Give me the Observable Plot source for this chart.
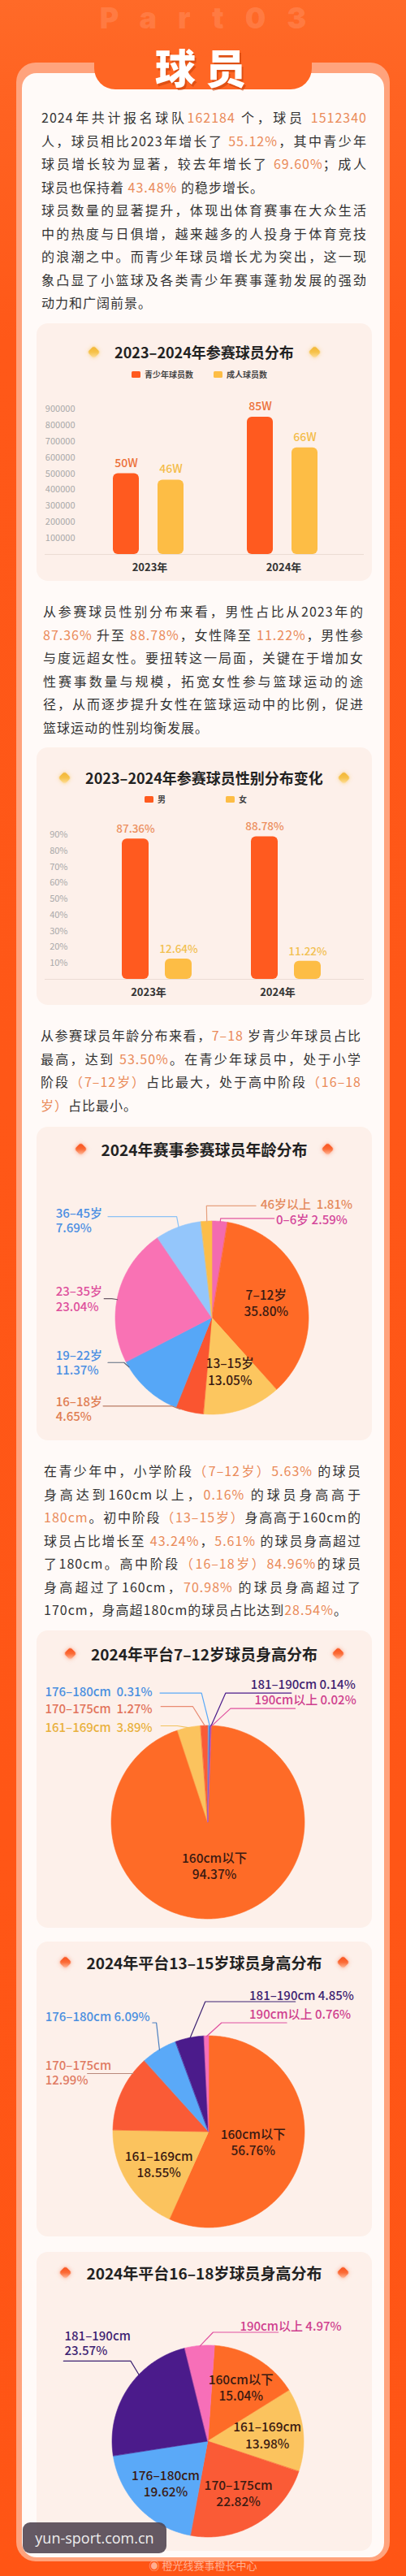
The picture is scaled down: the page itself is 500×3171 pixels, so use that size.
<!DOCTYPE html>
<html><head><meta charset="utf-8">
<script src="https://cdn.jsdelivr.net/npm/d3@7"></script>
<script src="https://cdn.jsdelivr.net/npm/@observablehq/plot@0.6"></script>
<style>
html,body{margin:0;padding:0;}
body{width:500px;height:3171px;position:relative;overflow:hidden;
  background:linear-gradient(180deg,#ff6a28 0px,#ff6322 110px,#ff5818 420px,#ff5515 100%);
  font-family:"Noto Sans CJK SC","Noto Sans",sans-serif;}
.abs{position:absolute;}
#wm{left:0;width:500px;top:0px;text-align:center;font-family:Inter,Roboto,sans-serif;font-weight:900;font-size:36px;line-height:normal;color:rgba(255,255,255,0.13);letter-spacing:26px;padding-left:26px;box-sizing:border-box;}
#ring{left:20px;top:77px;width:460px;height:3076px;background:#ffa37d;border-radius:24px;}
#white{left:27px;top:90px;width:446px;height:3058px;background:#fffaf8;border-radius:18px;}
#tab{left:116px;top:70px;width:268px;height:40px;background:#ff6624;border-radius:0 0 26px 26px;}
#title{left:0;width:500px;top:57px;height:48px;text-align:center;font-size:50px;line-height:48px;font-weight:900;color:#fff;letter-spacing:12px;padding-left:6px;box-sizing:border-box;text-shadow:2px 3px 0 rgba(196,62,8,0.55);}
.para{position:absolute;color:#333;font-size:16px;line-height:28.5px;letter-spacing:1px;}
.para div{height:28.5px;white-space:normal;}
.para div.j{text-align:justify;text-align-last:justify;}
.h{color:#ea8a58;}
.box{position:absolute;left:45px;width:413px;background:#fdf0ea;border-radius:14px;}
.ttl{position:absolute;left:45px;width:413px;height:28px;display:flex;align-items:center;justify-content:center;gap:20px;font-weight:700;color:#222;}
.dm{display:inline-block;width:11px;height:11px;transform:rotate(45deg);border-radius:3px;filter:blur(0.4px);}
.gold{background:linear-gradient(135deg,#f3b431 0%,#f6c24a 50%,#ffe2a6 100%);box-shadow:0 0 5px rgba(246,190,70,.6);}
.red{background:linear-gradient(135deg,#f9501c 0%,#fb6a35 50%,#ffc4a8 100%);box-shadow:0 0 5px rgba(250,90,40,.5);}
.leg{position:absolute;font-size:10px;font-weight:700;color:#444;line-height:14px;display:flex;align-items:center;}
.leg i{display:inline-block;width:11px;height:8px;border-radius:1.5px;margin-right:5px;}
#yun{left:28px;top:3105px;width:177px;height:38px;background:rgba(78,66,78,0.88);border-radius:9px;color:#eee;font:18px/38px "Open Sans","DejaVu Sans",sans-serif;text-align:center;}
#weibo{left:0;width:500px;top:3149px;text-align:center;font-size:13px;line-height:18px;color:rgba(255,255,255,0.55);}
</style></head>
<body>
<div id="wm" class="abs">Part03</div>
<div id="ring" class="abs"></div>
<div id="white" class="abs"></div>
<div id="tab" class="abs"></div>
<div id="title" class="abs">球员</div>

<div class="para" style="left:51px;top:130px;width:401px;">
<div class="j">2024年共计报名球队<span class="h">162184</span> 个，球员 <span class="h">1512340</span></div>
<div class="j">人，球员相比2023年增长了 <span class="h">55.12%</span>，其中青少年</div>
<div class="j">球员增长较为显著，较去年增长了 <span class="h">69.60%</span>；成人</div>
<div>球员也保持着 <span class="h">43.48%</span> 的稳步增长。</div>
<div class="j">球员数量的显著提升，体现出体育赛事在大众生活</div>
<div class="j">中的热度与日俱增，越来越多的人投身于体育竞技</div>
<div class="j">的浪潮之中。而青少年球员增长尤为突出，这一现</div>
<div class="j">象凸显了小篮球及各类青少年赛事蓬勃发展的强劲</div>
<div>动力和广阔前景。</div>
</div>

<div class="box" style="top:398px;height:317px;"></div>
<div class="ttl" style="top:419px;font-size:18px;"><i class="dm gold"></i><span>2023–2024年参赛球员分布</span><i class="dm gold"></i></div>
<div id="leg1"></div>

<div class="para" style="left:53px;top:738px;width:395px;">
<div class="j">从参赛球员性别分布来看，男性占比从2023年的</div>
<div class="j"><span class="h">87.36%</span> 升至 <span class="h">88.78%</span>，女性降至 <span class="h">11.22%</span>，男性参</div>
<div class="j">与度远超女性。要扭转这一局面，关键在于增加女</div>
<div class="j">性赛事数量与规模，拓宽女性参与篮球运动的途</div>
<div class="j">径，从而逐步提升女性在篮球运动中的比例，促进</div>
<div>篮球运动的性别均衡发展。</div>
</div>

<div class="box" style="top:920px;height:317px;"></div>
<div class="ttl" style="top:943px;font-size:18px;"><i class="dm gold"></i><span>2023–2024年参赛球员性别分布变化</span><i class="dm gold"></i></div>
<div id="leg2"></div>

<div class="para" style="left:50px;top:1260px;width:395px;">
<div class="j">从参赛球员年龄分布来看，<span class="h">7–18</span> 岁青少年球员占比</div>
<div class="j">最高，达到 <span class="h">53.50%</span>。在青少年球员中，处于小学</div>
<div class="j">阶段<span class="h">（7–12岁）</span>占比最大，处于高中阶段<span class="h">（16–18</span></div>
<div><span class="h">岁）</span>占比最小。</div>
</div>

<div class="box" style="top:1387px;height:386px;"></div>
<div class="ttl" style="top:1400px;font-size:19px;"><i class="dm red"></i><span>2024年赛事参赛球员年龄分布</span><i class="dm red"></i></div>

<div class="para" style="left:54px;top:1796px;width:391px;">
<div class="j">在青少年中，小学阶段<span class="h">（7–12岁）5.63%</span> 的球员</div>
<div class="j">身高达到160cm以上，<span class="h">0.16%</span> 的球员身高高于</div>
<div class="j"><span class="h">180cm</span>。初中阶段<span class="h">（13–15岁）</span>身高高于160cm的</div>
<div class="j">球员占比增长至 <span class="h">43.24%</span>，<span class="h">5.61%</span> 的球员身高超过</div>
<div class="j">了180cm。高中阶段<span class="h">（16–18岁）84.96%</span>的球员</div>
<div class="j">身高超过了160cm，<span class="h">70.98%</span> 的球员身高超过了</div>
<div>170cm，身高超180cm的球员占比达到<span class="h">28.54%</span>。</div>
</div>

<div class="box" style="top:2007px;height:366px;"></div>
<div class="ttl" style="top:2021px;font-size:19px;"><i class="dm red"></i><span>2024年平台7–12岁球员身高分布</span><i class="dm red"></i></div>
<div class="box" style="top:2390px;height:363px;"></div>
<div class="ttl" style="top:2401px;font-size:19px;"><i class="dm red"></i><span>2024年平台13–15岁球员身高分布</span><i class="dm red"></i></div>
<div class="box" style="top:2772px;height:368px;"></div>
<div class="ttl" style="top:2783px;font-size:19px;"><i class="dm red"></i><span>2024年平台16–18岁球员身高分布</span><i class="dm red"></i></div>

<script>
// ---------------- data ----------------
const barYears = ["2023年", "2024年"];
const playerSeries = ["青少年球员数", "成人球员数"];
const youthPlayers = [500000, 850000];
const adultPlayers = [460000, 660000];
const youthLabels = ["50W", "85W"];
const adultLabels = ["46W", "66W"];
const playerTicks = [100000, 200000, 300000, 400000, 500000, 600000, 700000, 800000, 900000];

const genderSeries = ["男", "女"];
const malePct = [87.36, 88.78];
const femalePct = [12.64, 11.22];
const genderTicks = [10, 20, 30, 40, 50, 60, 70, 80, 90];

const ageGroups = ["0–6岁", "7–12岁", "13–15岁", "16–18岁", "19–22岁", "23–35岁", "36–45岁", "46岁以上"];
const agePct = [2.59, 35.80, 13.05, 4.65, 11.37, 23.04, 7.69, 1.81];

const heightGroups = ["160cm以下", "161–169cm", "170–175cm", "176–180cm", "181–190cm", "190cm以上"];
const height712 = [94.37, 3.89, 1.27, 0.31, 0.14, 0.02];
const height1315 = [56.76, 18.55, 12.99, 6.09, 4.85, 0.76];
const height1618 = [15.04, 13.98, 22.82, 19.62, 23.57, 4.97];

// ---------------- styles / layout ----------------
const W = 413;
const plotStyle = {background: "transparent", overflow: "visible", fontFamily: '"Noto Sans CJK SC","Noto Sans",sans-serif'};
const barColors = ["#ff5a1f", "#fdbd45"];
const valueColors1 = ["#ec6f38", "#f4bc48"];
const valueColors2 = ["#ec8f5e", "#f2c052"];
const ageColors = {"0–6岁": "#f36bb0", "7–12岁": "#ff6a26", "13–15岁": "#fcc65f", "16–18岁": "#fa5530",
  "19–22岁": "#56a7f7", "23–35岁": "#f972b4", "36–45岁": "#94c6fb", "46岁以上": "#fcbd48"};
const heightColors = {"160cm以下": "#fe6b27", "161–169cm": "#fbc35e", "170–175cm": "#fa5b36",
  "176–180cm": "#5aa9f8", "181–190cm": "#4b1b8b", "190cm以上": "#f76fb8"};

function mount(node, left, top) {
  const d = document.createElement("div");
  d.style.cssText = `position:absolute;left:${left}px;top:${top}px;`;
  d.appendChild(node);
  document.body.appendChild(d);
}

function legend(id, names, colors, lefts, top) {
  const host = document.getElementById(id);
  names.forEach((n, i) => {
    const el = document.createElement("div");
    el.className = "leg";
    el.style.left = lefts[i] + "px";
    el.style.top = top + "px";
    el.innerHTML = `<i style="background:${colors[i]}"></i>${n}`;
    host.appendChild(el);
  });
}

function barChart(o) {
  const key = (y, s) => y + "·" + s;
  const rows = [];
  o.years.forEach((y, i) => o.series.forEach((s, j) => rows.push({
    key: key(y, s), value: o.values[j][i], label: o.labels[j][i],
    barColor: barColors[j], textColor: o.valueColors[j]
  })));
  const domain = [key(o.years[0], o.series[0]), key(o.years[0], o.series[1]), "gap",
                  key(o.years[1], o.series[0]), key(o.years[1], o.series[1])];
  return Plot.plot({
    width: W, height: o.h, marginTop: o.mt, marginBottom: o.mb, marginLeft: 10, marginRight: 10,
    x: {domain, range: o.xr, paddingInner: o.pad, paddingOuter: 0, axis: null},
    y: {domain: [0, o.yMax], label: null},
    color: {type: "identity"},
    style: plotStyle,
    marks: [
      Plot.axisY({ticks: o.ticks, tickSize: 0, tickPadding: 0, dx: o.axisDx, tickFormat: o.fmt,
        fill: "#a9a9a9", fontSize: 11, label: null}),
      Plot.ruleY([0], {stroke: "#ecdcd4", strokeWidth: 1}),
      Plot.barY(rows, {x: "key", y: "value", fill: "barColor", rx: 6}),
      Plot.text(rows, {x: "key", y: "value", text: "label", fill: "textColor", dy: o.labelDy,
        fontSize: o.labelSize, fontWeight: 500}),
      Plot.text(o.years, {x: d => key(d, o.series[0]), y: () => 0, text: d => d, dx: o.yearDx, dy: 16,
        fontSize: 13, fontWeight: 700, fill: "#333"})
    ]
  });
}

mount(barChart({years: barYears, series: playerSeries, values: [youthPlayers, adultPlayers],
  labels: [youthLabels, adultLabels], valueColors: valueColors1, ticks: playerTicks, fmt: d => String(d),
  yMax: 900000, h: 235, mt: 23, mb: 33, xr: [92, 349], pad: 0.41, axisDx: 37, yearDx: 29,
  labelDy: -13, labelSize: 14}), 45, 480);
legend("leg1", playerSeries, barColors, [162, 263], 454);

mount(barChart({years: barYears, series: genderSeries, values: [malePct, femalePct],
  labels: [malePct.map(v => v.toFixed(2) + "%"), femalePct.map(v => v.toFixed(2) + "%")],
  valueColors: valueColors2, ticks: genderTicks, fmt: d => d + "%",
  yMax: 90, h: 237, mt: 27, mb: 32, xr: [104, 350], pad: 0.38, axisDx: 28, yearDx: 16,
  labelDy: -12, labelSize: 13.5}), 45, 1000);
legend("leg2", genderSeries, barColors, [178, 278], 977);

// ---------------- pies ----------------
function piePlot(cats, vals, colors, L) {
  const rows = cats.map((c, i) => ({cat: c, v: vals[i], color: colors[c]}));
  const s0 = L.start * Math.PI / 180;
  const arcs = d3.pie().sort(null).value(d => d.v).startAngle(s0).endAngle(s0 + 2 * Math.PI)(rows);
  const byCat = new Map(arcs.map(a => [a.data.cat, a]));
  const wedge = [];
  arcs.forEach(a => {
    const n = Math.max(2, Math.ceil((a.endAngle - a.startAngle) / (Math.PI / 180)) + 1);
    for (let i = 0; i < n; i++) {
      const t = a.startAngle + (a.endAngle - a.startAngle) * i / (n - 1);
      wedge.push({cat: a.data.cat, color: a.data.color, x: Math.sin(t), y: Math.cos(t)});
    }
  });
  const pctText = v => v.toFixed(2) + "%";
  const inside = L.inside.map(c => {
    const a = byCat.get(c), m = (a.startAngle + a.endAngle) / 2, r = (L.innerR[c] ?? L.innerR.all);
    return {x: r * Math.sin(m), y: r * Math.cos(m), text: `${c}\n${pctText(a.data.v)}`};
  });
  const outText = [], leaders = [];
  Object.entries(L.outside).forEach(([c, o]) => {
    const a = byCat.get(c);
    const t = a.startAngle + (o.at ?? 0.5) * (a.endAngle - a.startAngle);
    const p0 = [Math.sin(t), Math.cos(t)];
    const bx = o.bx ?? 1.06 * p0[0];
    [[o.ex, o.ly], [bx, o.ly], p0].forEach(p => leaders.push({cat: c, color: o.line, x: p[0], y: p[1]}));
    outText.push({x: o.tx, y: o.ty, color: o.color,
      text: o.two ? `${c}\n${pctText(a.data.v)}` : `${c}${o.sep ?? " "}${pctText(a.data.v)}`});
  });
  return Plot.plot({
    width: W, height: L.h,
    marginLeft: L.cx - L.r, marginRight: W - L.cx - L.r, marginTop: L.cy - L.r, marginBottom: L.h - L.cy - L.r,
    x: {domain: [-1, 1], axis: null}, y: {domain: [-1, 1], axis: null},
    color: {type: "identity"},
    style: plotStyle,
    marks: [
      Plot.area(wedge, {x1: () => 0, y1: () => 0, x2: "x", y2: "y", z: "cat", fill: "color",
        stroke: "color", strokeWidth: 0.6}),
      Plot.line(leaders, {x: "x", y: "y", z: "cat", stroke: "color", strokeWidth: 1.2}),
      Plot.text(inside, {x: "x", y: "y", text: "text", fill: "#3a1a12", fontSize: 15.5, fontWeight: 500, lineHeight: 1.3}),
      Plot.text(outText, {x: "x", y: "y", text: "text", fill: "color", textAnchor: "start",
        fontSize: 15, fontWeight: 500, lineHeight: 1.22})
    ]
  });
}

const ageLayout = {h: 333, cx: 216, cy: 182, r: 119, start: 0, innerR: {all: 0.58},
  inside: ["7–12岁", "13–15岁"],
  outside: {
    "0–6岁": {tx: 0.66, ty: 1.02, ly: 1.03, ex: 0.64, sep: " ", color: "#d4469a", line: "#e2579f"},
    "16–18岁": {tx: -1.62, ty: -0.94, ly: -0.91, ex: -1.13, bx: -0.42, at: 0.85, two: true, color: "#e07d52", line: "#b97a63"},
    "19–22岁": {tx: -1.62, ty: -0.46, ly: -0.46, ex: -1.08, at: 0.92, two: true, color: "#4b8fe3", line: "#5b6b80"},
    "23–35岁": {tx: -1.62, ty: 0.20, ly: 0.20, ex: -1.12, at: 0.46, two: true, color: "#de4f9c", line: "#6b5a66"},
    "36–45岁": {tx: -1.62, ty: 1.01, ly: 1.05, ex: -1.08, two: true, color: "#4b8fe3", line: "#8cc2f6"},
    "46岁以上": {tx: 0.50, ty: 1.18, ly: 1.16, ex: 0.45, sep: "  ", color: "#e48a5c", line: "#e6a07e"}
  }};
mount(piePlot(ageGroups, agePct, ageColors, ageLayout), 45, 1440);

const h712Layout = {h: 318, cx: 211, cy: 188, r: 119, start: 2, innerR: {all: 0.45},
  inside: ["160cm以下"],
  outside: {
    "161–169cm": {tx: -1.69, ty: 0.99, ly: 1.00, ex: -0.49, bx: -0.32, sep: "  ", color: "#e9b13c", line: "#f2c25e"},
    "170–175cm": {tx: -1.69, ty: 1.18, ly: 1.20, ex: -0.49, bx: -0.16, sep: "  ", color: "#e2735a", line: "#e98a72"},
    "176–180cm": {tx: -1.69, ty: 1.36, ly: 1.34, ex: -0.50, bx: -0.07, sep: "  ", color: "#4a8fe0", line: "#5aa9f8"},
    "181–190cm": {tx: 0.44, ty: 1.43, ly: 1.34, ex: 0.86, bx: 0.18, sep: " ", color: "#3d2372", line: "#4b1b8b"},
    "190cm以上": {tx: 0.48, ty: 1.27, ly: 1.18, ex: 0.90, bx: 0.23, sep: " ", color: "#cf3f8e", line: "#e0509f"}
  }};
mount(piePlot(heightGroups, height712, heightColors, h712Layout), 45, 2055);

const h1315Layout = {h: 318, cx: 212, cy: 189, r: 118, start: 0, innerR: {all: 0.55, "160cm以下": 0.47, "161–169cm": 0.62},
  inside: ["160cm以下", "161–169cm"],
  outside: {
    "170–175cm": {tx: -1.71, ty: 0.62, ly: 0.61, ex: -1.27, at: 0.78, two: true, color: "#e07a62", line: "#b98a7d"},
    "176–180cm": {tx: -1.71, ty: 1.21, ly: 1.14, ex: -0.59, bx: -0.55, sep: " ", color: "#4a8fe0", line: "#4a7fc0"},
    "181–190cm": {tx: 0.42, ty: 1.43, ly: 1.36, ex: 0.90, bx: -0.04, sep: " ", color: "#3d2372", line: "#3d2372"},
    "190cm以上": {tx: 0.42, ty: 1.23, ly: 1.14, ex: 0.81, bx: 0.13, sep: " ", color: "#cf3f8e", line: "#e0509f"}
  }};
mount(piePlot(heightGroups, height1315, heightColors, h1315Layout), 45, 2435);

const h1618Layout = {h: 323, cx: 211, cy: 188, r: 118, start: 4, innerR: {all: 0.62, "160cm以下": 0.66},
  inside: ["160cm以下", "161–169cm", "170–175cm", "176–180cm"],
  outside: {
    "181–190cm": {tx: -1.50, ty: 1.03, ly: 0.84, ex: -1.51, bx: -0.81, at: 0.62, two: true, color: "#3d2372", line: "#3d2372"},
    "190cm以上": {tx: 0.33, ty: 1.21, ly: 1.14, ex: 0.73, bx: 0.05, sep: " ", color: "#cf3f8e", line: "#e0509f"}
  }};
mount(piePlot(heightGroups, height1618, heightColors, h1618Layout), 45, 2817);
</script>
<div id="yun" class="abs">yun-sport.com.cn</div>
<div id="weibo" class="abs">◉ 橙光线赛事橙长中心</div>
</body></html>
